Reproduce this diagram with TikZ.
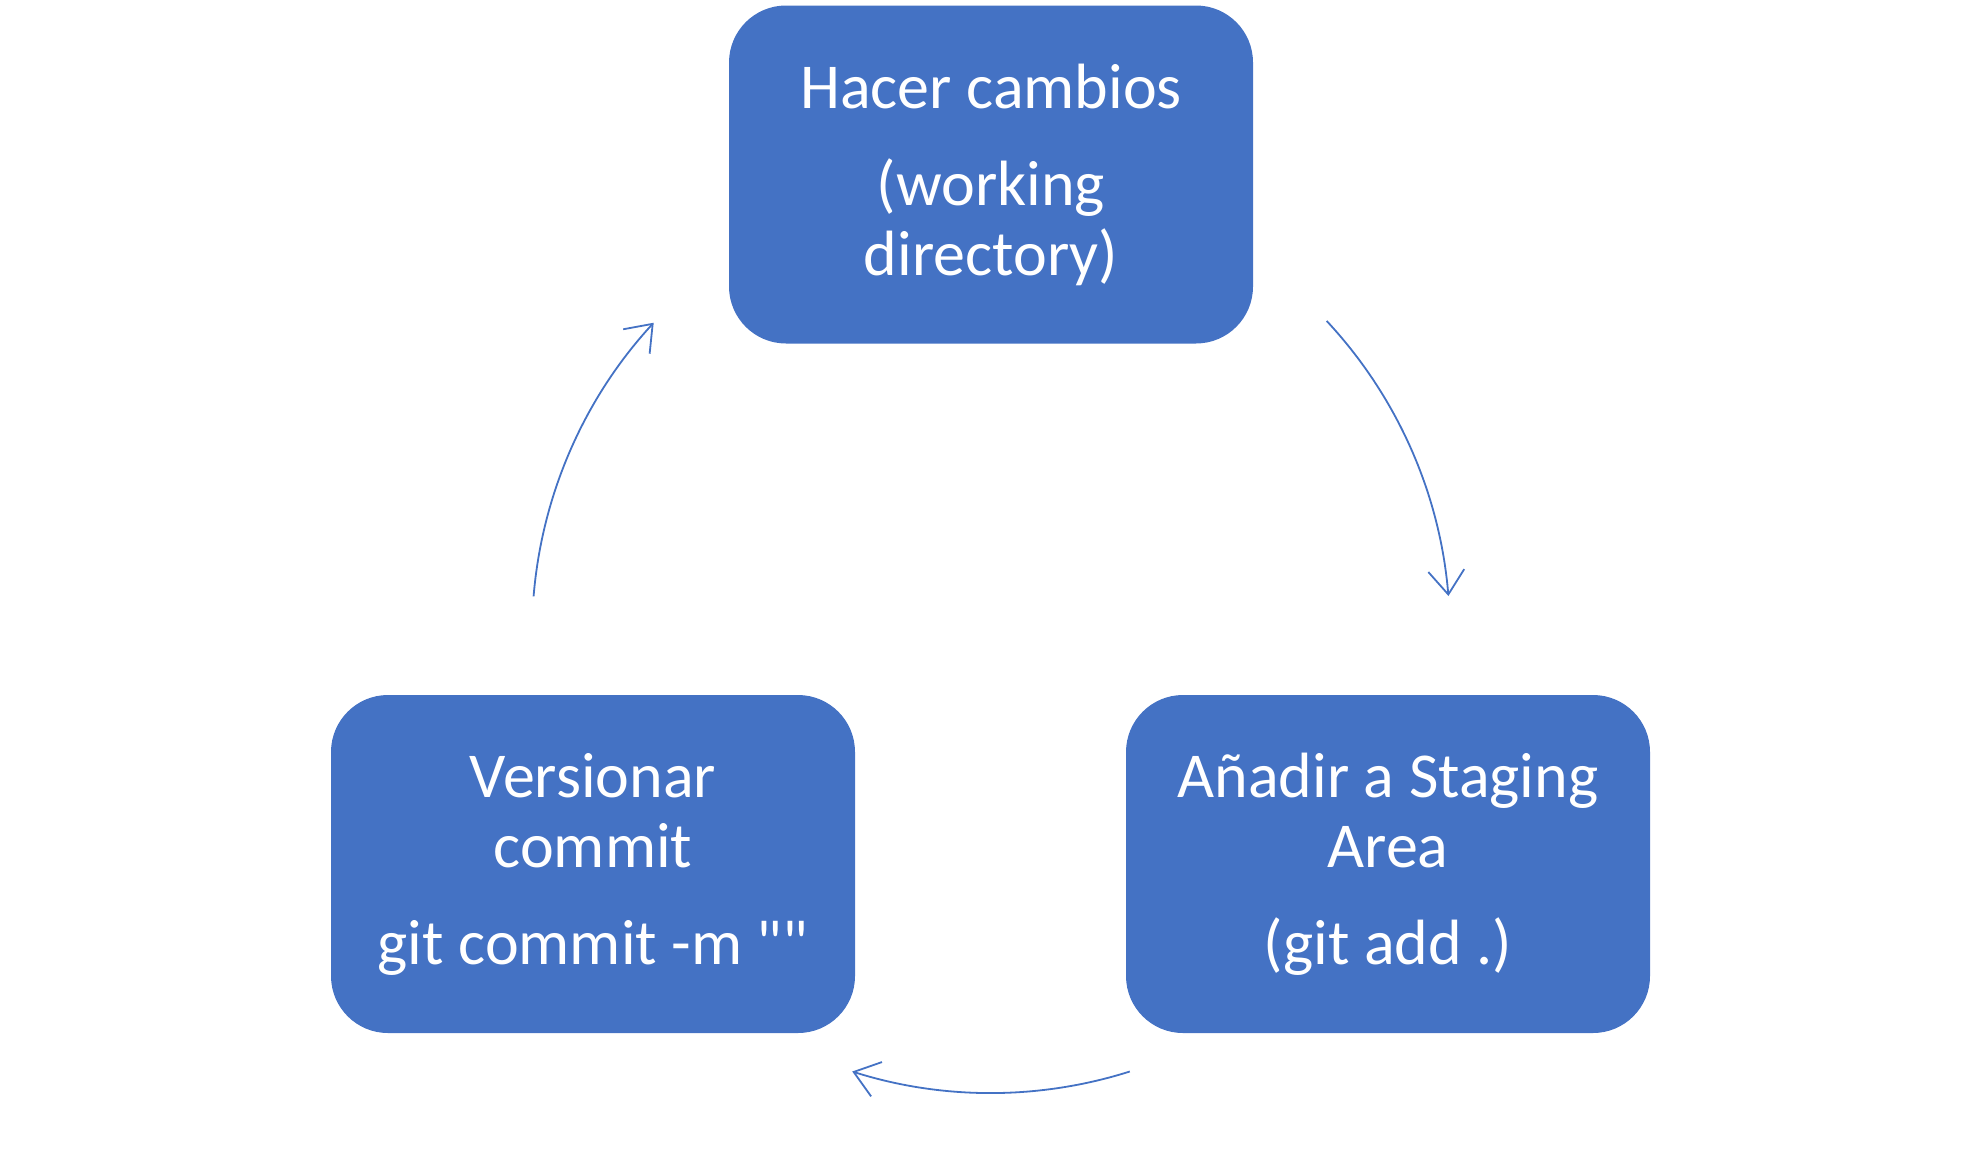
\documentclass[tikz,border=0pt]{standalone}
\usepackage{fontspec}
\setmainfont{Carlito}[Ligatures=TeXOff]
\usetikzlibrary{arrows.meta}
\definecolor{boxblue}{HTML}{4472C4}
\tikzset{
  stagebox/.style={draw=none, fill=boxblue, rounded corners=57pt,
    minimum width=524pt, minimum height=338pt, inner sep=0pt,
    text=white, align=center, font=\fontsize{64}{70}\selectfont},
  cyc/.style={draw=boxblue, line width=1.8pt,
    -{Straight Barb[length=24pt,width=36pt,line width=1.8pt]}}
}
\begin{document}
\begin{tikzpicture}[x=1pt,y=1pt]
\useasboundingbox (0,0) rectangle (1980,-1157);
\node[stagebox] (wd) at (991,-174.5) {Hacer cambios\\[27pt](working\\directory)};
\node[stagebox] (st) at (1388,-864) {Añadir a Staging\\Area\\[27pt](git add .)};
\node[stagebox] (cm) at (593,-864) {Versionar\\commit\\[27pt]git commit -m ""};
\coordinate (ctr) at (991,-634);
\coordinate (a1) at ([shift={(43:459)}]ctr);
\coordinate (a2) at ([shift={(-72.4:459)}]ctr);
\coordinate (a3) at ([shift={(175.3:459)}]ctr);
\draw[cyc] (a1) arc[start angle=43, end angle=4.75, radius=459];
\draw[cyc] (a2) arc[start angle=-72.4, end angle=-107.6, radius=459];
\draw[cyc] (a3) arc[start angle=175.3, end angle=137.3, radius=459];
\end{tikzpicture}
\end{document}
